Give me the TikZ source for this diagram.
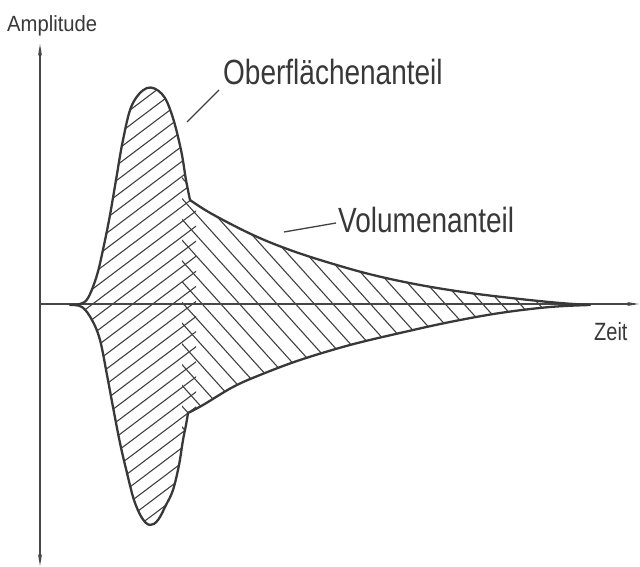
\documentclass[tikz,border=0pt]{standalone}
\usepackage{fontspec}
\usepackage{graphicx}
\setmainfont{Liberation Sans}
\usetikzlibrary{arrows.meta}
\begin{document}
\begin{tikzpicture}[x=1pt,y=-1pt,
  curve/.style={draw=black!78, line width=2.3pt, line join=round},
  axisline/.style={draw=black!72, line width=1.5pt},
  hatch/.style={draw=black!75, line width=1.1pt},
  lab/.style={inner sep=0pt, anchor=base west, text=black!78},
  leader/.style={draw=black!75, line width=1.3pt}]
\useasboundingbox (0,0) rectangle (640,567);
\path[save path=\fullpath]
  plot[smooth,tension=0.6] coordinates {(70,305) (80,304) (88,298) (97,275) (104,245) (110,215) (116,180) (123,140) (132,105) (147,88) (162,94) (172,115) (181,150) (186,180) (190,200)}
  -- plot[smooth,tension=0.6] coordinates {(190,200) (212,214) (253,235) (290,250) (330,263) (373,275) (420,285) (470,293) (520,299) (560,303) (590,305)}
  -- plot[smooth,tension=0.6] coordinates {(590,305) (550,307) (500,313) (450,322) (400,333) (350,345) (300,360) (260,375) (233,387) (203,405) (188,413)}
  -- plot[smooth,tension=0.6] coordinates {(188,413) (186,425) (183,440) (179,465) (173,490) (166,505) (158,520) (150,525) (142,518) (134,500) (127,473) (120,443) (113,407) (107,375) (100,340) (92,320) (82,307) (70,305)}
  -- cycle;
% hatching, surface part
\begin{scope}
  \clip[use path=\fullpath];
  \clip (60,0) rectangle (196,600);
  \foreach \a in {-560,-540,...,220} \draw[hatch] (\a,600) -- ++(800,-603);
\end{scope}
% hatching, volume part
\begin{scope}
  \clip[use path=\fullpath];
  \clip (182,0) rectangle (640,600);
  \foreach \a in {-240,-221.3,...,620} \draw[hatch] (\a,0) -- ++(600,666);
\end{scope}
% axes
\coordinate (O) at (40,304);
\coordinate (ytop) at (40,44);
\coordinate (ybot) at (40,566);
\coordinate (xend) at (639,304);
\draw[axisline,{Stealth[length=12pt,width=4pt]}-{Stealth[length=12pt,width=4pt]}] (ybot) -- (ytop);
\draw[axisline,-{Stealth[length=12pt,width=4pt]}] (O) -- (xend);
% outline
\draw[curve,use path=\fullpath];
% labels
\node[lab] (amp) at (7,32) {\fontsize{22pt}{24pt}\selectfont\scalebox{0.92}[1]{Amplitude}};
\node[lab] (ober) at (223,85) {\fontsize{35pt}{38pt}\selectfont\scalebox{0.8}[1]{Oberflächenanteil}};
\node[lab] (vol) at (338,232) {\fontsize{35pt}{38pt}\selectfont\scalebox{0.8}[1]{Volumenanteil}};
\node[lab] (zeit) at (594,340) {\fontsize{25pt}{27pt}\selectfont\scalebox{0.8}[1]{Zeit}};
% leaders
\coordinate (l1a) at (187,122);
\coordinate (l1b) at (219,90);
\coordinate (l2a) at (284,232);
\coordinate (l2b) at (336,223);
\draw[leader] (l1a) -- (l1b);
\draw[leader] (l2a) -- (l2b);
\end{tikzpicture}
\end{document}
